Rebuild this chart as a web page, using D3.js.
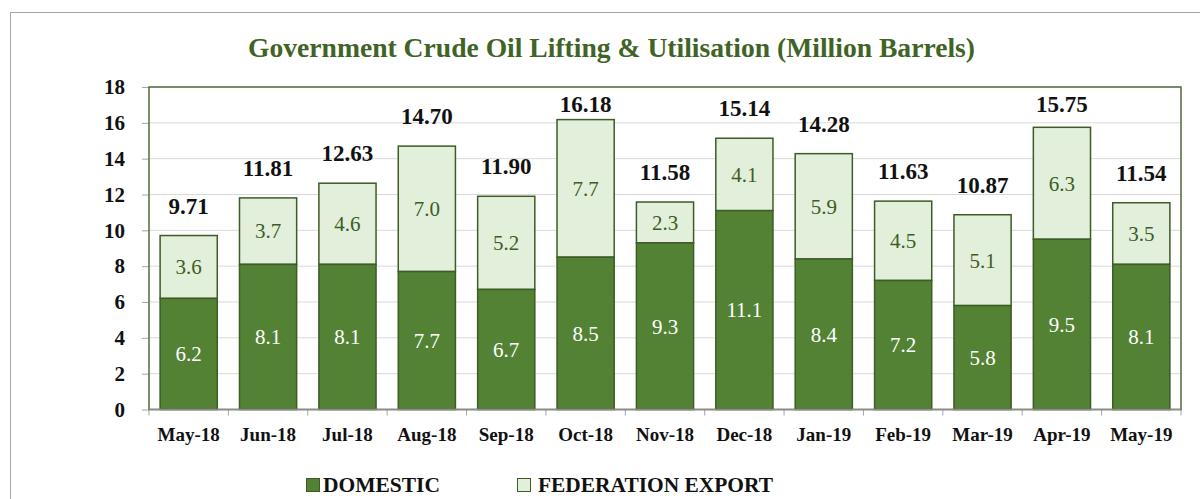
<!DOCTYPE html>
<html><head><meta charset="utf-8">
<script src="https://cdn.jsdelivr.net/npm/d3@7"></script>
<style>body{margin:0;background:#fff;}svg{display:block;}</style>
</head><body>
<svg id="chart" width="1200" height="499"></svg>
<script>
const months = ["May-18","Jun-18","Jul-18","Aug-18","Sep-18","Oct-18","Nov-18","Dec-18","Jan-19","Feb-19","Mar-19","Apr-19","May-19"];
const domestic = [6.2,8.1,8.1,7.7,6.7,8.5,9.3,11.1,8.4,7.2,5.8,9.5,8.1];
const fedExport = [3.6,3.7,4.6,7.0,5.2,7.7,2.3,4.1,5.9,4.5,5.1,6.3,3.5];
const totals = [9.71,11.81,12.63,14.70,11.90,16.18,11.58,15.14,14.28,11.63,10.87,15.75,11.54];
const yTicks = [0,2,4,6,8,10,12,14,16,18];
const seriesNames = ["DOMESTIC","FEDERATION EXPORT"];

const FONT = "'Liberation Serif', serif";
const svg = d3.select("#chart");
const m = {left:149, right:1181, top:87, bottom:409.5};
const x = d3.scaleBand().domain(months).range([m.left, m.right]).paddingInner(0.28).paddingOuter(0.14);
const y = d3.scaleLinear().domain([0,18]).range([m.bottom, m.top]);

// outer border
svg.append("rect").attr("x",10.5).attr("y",12.5).attr("width",1200).attr("height",500)
  .attr("fill","none").attr("stroke","#a6a6a6").attr("stroke-width",1);

// title
svg.append("text").attr("x",611.5).attr("y",57).attr("text-anchor","middle")
  .attr("font-family",FONT).attr("font-weight","bold").attr("font-size",27)
  .attr("textLength",727).attr("lengthAdjust","spacingAndGlyphs")
  .attr("fill","#3f6426").text("Government Crude Oil Lifting & Utilisation (Million Barrels)");

// gridlines
svg.append("g").selectAll("line").data(yTicks.filter(d=>d>0)).join("line")
  .attr("x1",m.left).attr("x2",m.right).attr("y1",d=>y(d)).attr("y2",d=>y(d))
  .attr("stroke","#d9d9d9").attr("stroke-width",1);

// y axis
const yAxis = svg.append("g").attr("transform",`translate(${m.left},0)`)
  .call(d3.axisLeft(y).tickValues(yTicks).tickSize(7).tickPadding(17).tickFormat(d3.format("d")));
yAxis.select(".domain").remove();
yAxis.selectAll(".tick line").attr("stroke","#a6a6a6");
yAxis.selectAll("text").attr("font-family",FONT).attr("font-weight","bold").attr("font-size",21).attr("fill","#111");

// x axis
const xAxis = svg.append("g").attr("transform",`translate(0,${m.bottom})`)
  .call(d3.axisBottom(x).tickSize(0).tickPadding(18));
xAxis.select(".domain").remove();
xAxis.selectAll("text").attr("font-family",FONT).attr("font-weight","bold").attr("font-size",19).attr("fill","#111");
const step = x.step();
const bounds = d3.range(months.length+1).map(i => m.left + i*step);
svg.append("g").selectAll("line").data(bounds).join("line")
  .attr("x1",d=>d).attr("x2",d=>d).attr("y1",m.bottom).attr("y2",m.bottom+6)
  .attr("stroke","#a6a6a6");

// bars
const data = months.map((mo,i)=>({mo, dom:domestic[i], exp:fedExport[i], tot:totals[i]}));
const g = svg.append("g");
g.selectAll("rect.exp").data(data).join("rect").attr("class","exp")
  .attr("x",d=>x(d.mo)).attr("width",x.bandwidth())
  .attr("y",d=>y(d.tot)).attr("height",d=>y(d.dom)-y(d.tot))
  .attr("fill","#e2efda").attr("stroke","#3d5c26").attr("stroke-width",1.5);
g.selectAll("rect.dom").data(data).join("rect").attr("class","dom")
  .attr("x",d=>x(d.mo)).attr("width",x.bandwidth())
  .attr("y",d=>y(d.dom)).attr("height",d=>y(0)-y(d.dom))
  .attr("fill","#548235").attr("stroke","#3d5c26").attr("stroke-width",1.5);

// labels
g.selectAll("text.dl").data(data).join("text").attr("class","dl")
  .attr("x",d=>x(d.mo)+x.bandwidth()/2).attr("y",d=>(y(0)+y(d.dom))/2).attr("dy","0.35em")
  .attr("text-anchor","middle").attr("font-family",FONT).attr("font-size",21).attr("fill","#ffffff")
  .text(d=>d3.format(".1f")(d.dom));
g.selectAll("text.el").data(data).join("text").attr("class","el")
  .attr("x",d=>x(d.mo)+x.bandwidth()/2).attr("y",d=>(y(d.dom)+y(d.tot))/2).attr("dy","0.35em")
  .attr("text-anchor","middle").attr("font-family",FONT).attr("font-size",21).attr("fill","#3d5c26")
  .text(d=>d3.format(".1f")(d.exp));
// total labels: 30px above bar top, kept inside the plot area
g.selectAll("text.tl").data(data).join("text").attr("class","tl")
  .attr("x",d=>x(d.mo)+x.bandwidth()/2).attr("y",d=>Math.max(y(d.tot)-30, m.top+17)).attr("dy","0.35em")
  .attr("text-anchor","middle").attr("font-family",FONT).attr("font-weight","bold").attr("font-size",23).attr("fill","#111")
  .text(d=>d3.format(".2f")(d.tot));

// plot border
svg.append("rect").attr("x",m.left).attr("y",m.top).attr("width",m.right-m.left).attr("height",m.bottom-m.top)
  .attr("fill","none").attr("stroke","#4f6b3a").attr("stroke-width",1.5);
svg.append("line").attr("x1",m.left).attr("x2",m.right).attr("y1",m.bottom).attr("y2",m.bottom)
  .attr("stroke","#8c8c8c").attr("stroke-width",1.5);

// legend
const leg = [{name:seriesNames[0], fill:"#548235", x:306, tx:17, w:117},{name:seriesNames[1], fill:"#e2efda", x:517, tx:21, w:235}];
const lg = svg.append("g").selectAll("g").data(leg).join("g").attr("transform",d=>`translate(${d.x},478)`);
lg.append("rect").attr("x",0.5).attr("y",0.5).attr("width",13).attr("height",13).attr("fill",d=>d.fill).attr("stroke","#3d5c26").attr("stroke-width",1);
lg.append("text").attr("x",d=>d.tx).attr("y",14).attr("font-family",FONT).attr("font-weight","bold").attr("font-size",22)
  .attr("textLength",d=>d.w).attr("lengthAdjust","spacingAndGlyphs").attr("fill","#111").text(d=>d.name);
</script>
</body></html>
